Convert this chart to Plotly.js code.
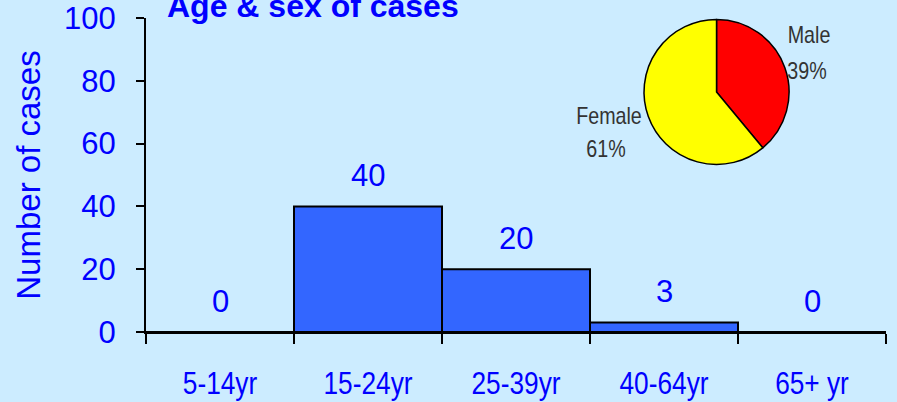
<!DOCTYPE html>
<html>
<head>
<meta charset="utf-8">
<script src="https://cdn.plot.ly/plotly-3.0.1.min.js"></script>
<style>html,body{margin:0;padding:0;background:#CCECFF;}#chart{width:897px;height:402px;}</style>
</head>
<body>
<div id="chart"></div>
<script>
// ---- data ----
const ageGroups = ['5-14yr', '15-24yr', '25-39yr', '40-64yr', '65+ yr'];
const caseCounts = [0, 40, 20, 3, 0];
const sexLabels = ['Male', 'Female'];
const sexShares = [39, 61];
const yTicks = [0, 20, 40, 60, 80, 100];
const chartTitle = 'Age & sex of cases';
const yTitle = 'Number of cases';

// ---- styles ----
const BLUE = '#0000FF';
const MAIN_FONT = 'Liberation Sans, Arial, sans-serif';
const NARROW = 0.82; // horizontal compression to mimic a narrow face

const barTrace = {
  type: 'bar',
  x: ageGroups,
  y: caseCounts,
  width: 1,
  marker: {color: '#3366FF', line: {color: '#000000', width: 2}},
  hoverinfo: 'x+y',
  showlegend: false
};

const pieTrace = {
  type: 'pie',
  labels: sexLabels,
  values: sexShares,
  sort: false,
  direction: 'clockwise',
  rotation: 0,
  textinfo: 'none',
  marker: {colors: ['#FF0000', '#FFFF00'], line: {color: '#000000', width: 1.5}},
  domain: {x: [0.673, 0.869], y: [0.532, 0.997]},
  showlegend: false
};

const annotations = [];
// bar value labels
ageGroups.forEach((g, i) => {
  annotations.push({
    x: g, y: caseCounts[i], xref: 'x', yref: 'y',
    text: String(caseCounts[i]), showarrow: false,
    yanchor: 'middle', yshift: 31,
    font: {family: MAIN_FONT, size: 31, color: BLUE}
  });
});
// pie labels
const total = sexShares.reduce((a, b) => a + b, 0);
const pieLabelPos = [
  {x: 0.896, yl: 0.949, yp: 0.834, xp: 0.893},
  {x: 0.626, yl: 0.691, yp: 0.583, xp: 0.622}
];
const narrowIdx = [];
sexLabels.forEach((lab, i) => {
  const p = pieLabelPos[i];
  narrowIdx.push(annotations.length);
  annotations.push({x: p.x, y: p.yl, xref: 'paper', yref: 'paper', text: lab, showarrow: false,
    xanchor: 'center', yanchor: 'middle', font: {family: MAIN_FONT, size: 24, color: '#333333'}});
  narrowIdx.push(annotations.length);
  annotations.push({x: p.xp, y: p.yp, xref: 'paper', yref: 'paper',
    text: Math.round(sexShares[i] / total * 100) + '%', showarrow: false,
    xanchor: 'center', yanchor: 'middle', font: {family: MAIN_FONT, size: 24, color: '#333333'}});
});
// chart title
annotations.push({
  x: 0.0257, y: 1.038, xref: 'paper', yref: 'paper', text: '<b>' + chartTitle.replace('&', '&amp;') + '</b>',
  showarrow: false, xanchor: 'left', yanchor: 'middle',
  font: {family: MAIN_FONT, size: 32, color: BLUE}
});

const layout = {
  width: 897, height: 402,
  margin: {l: 146, r: 11, t: 18, b: 70, pad: 0},
  paper_bgcolor: '#CCECFF',
  plot_bgcolor: '#CCECFF',
  bargap: 0,
  font: {family: MAIN_FONT, color: BLUE},
  xaxis: {
    type: 'category',
    range: [-0.5, 4.5],
    tickson: 'boundaries',
    ticks: 'outside', ticklen: 10, tickwidth: 2, tickcolor: '#000000',
    showline: true, linewidth: 2, linecolor: '#000000',
    showgrid: false, zeroline: false,
    tickfont: {family: MAIN_FONT, size: 32, color: BLUE},
    ticklabelstandoff: 22,
    fixedrange: true
  },
  yaxis: {
    range: [0, 100],
    tickvals: yTicks,
    ticks: 'outside', ticklen: 8, tickwidth: 2, tickcolor: '#000000',
    showline: true, linewidth: 2, linecolor: '#000000',
    showgrid: false, zeroline: false,
    tickfont: {family: MAIN_FONT, size: 31, color: BLUE},
    ticklabelstandoff: 14,
    title: {text: yTitle, font: {family: MAIN_FONT, size: 33, color: BLUE}, standoff: 14},
    fixedrange: true
  },
  annotations: annotations
};

function compress(el) {
  const w = el.getComputedTextLength();
  if (w > 0) {
    el.setAttribute('textLength', (w * NARROW).toFixed(1));
    el.setAttribute('lengthAdjust', 'spacingAndGlyphs');
  }
}

Plotly.newPlot('chart', [barTrace, pieTrace], layout, {displayModeBar: false, staticPlot: true}).then(gd => {
  gd.querySelectorAll('.xtick text').forEach(compress);
  narrowIdx.forEach(i => {
    const t = gd.querySelector('.annotation[data-index="' + i + '"] text');
    if (t) compress(t);
  });
});
</script>
</body>
</html>
